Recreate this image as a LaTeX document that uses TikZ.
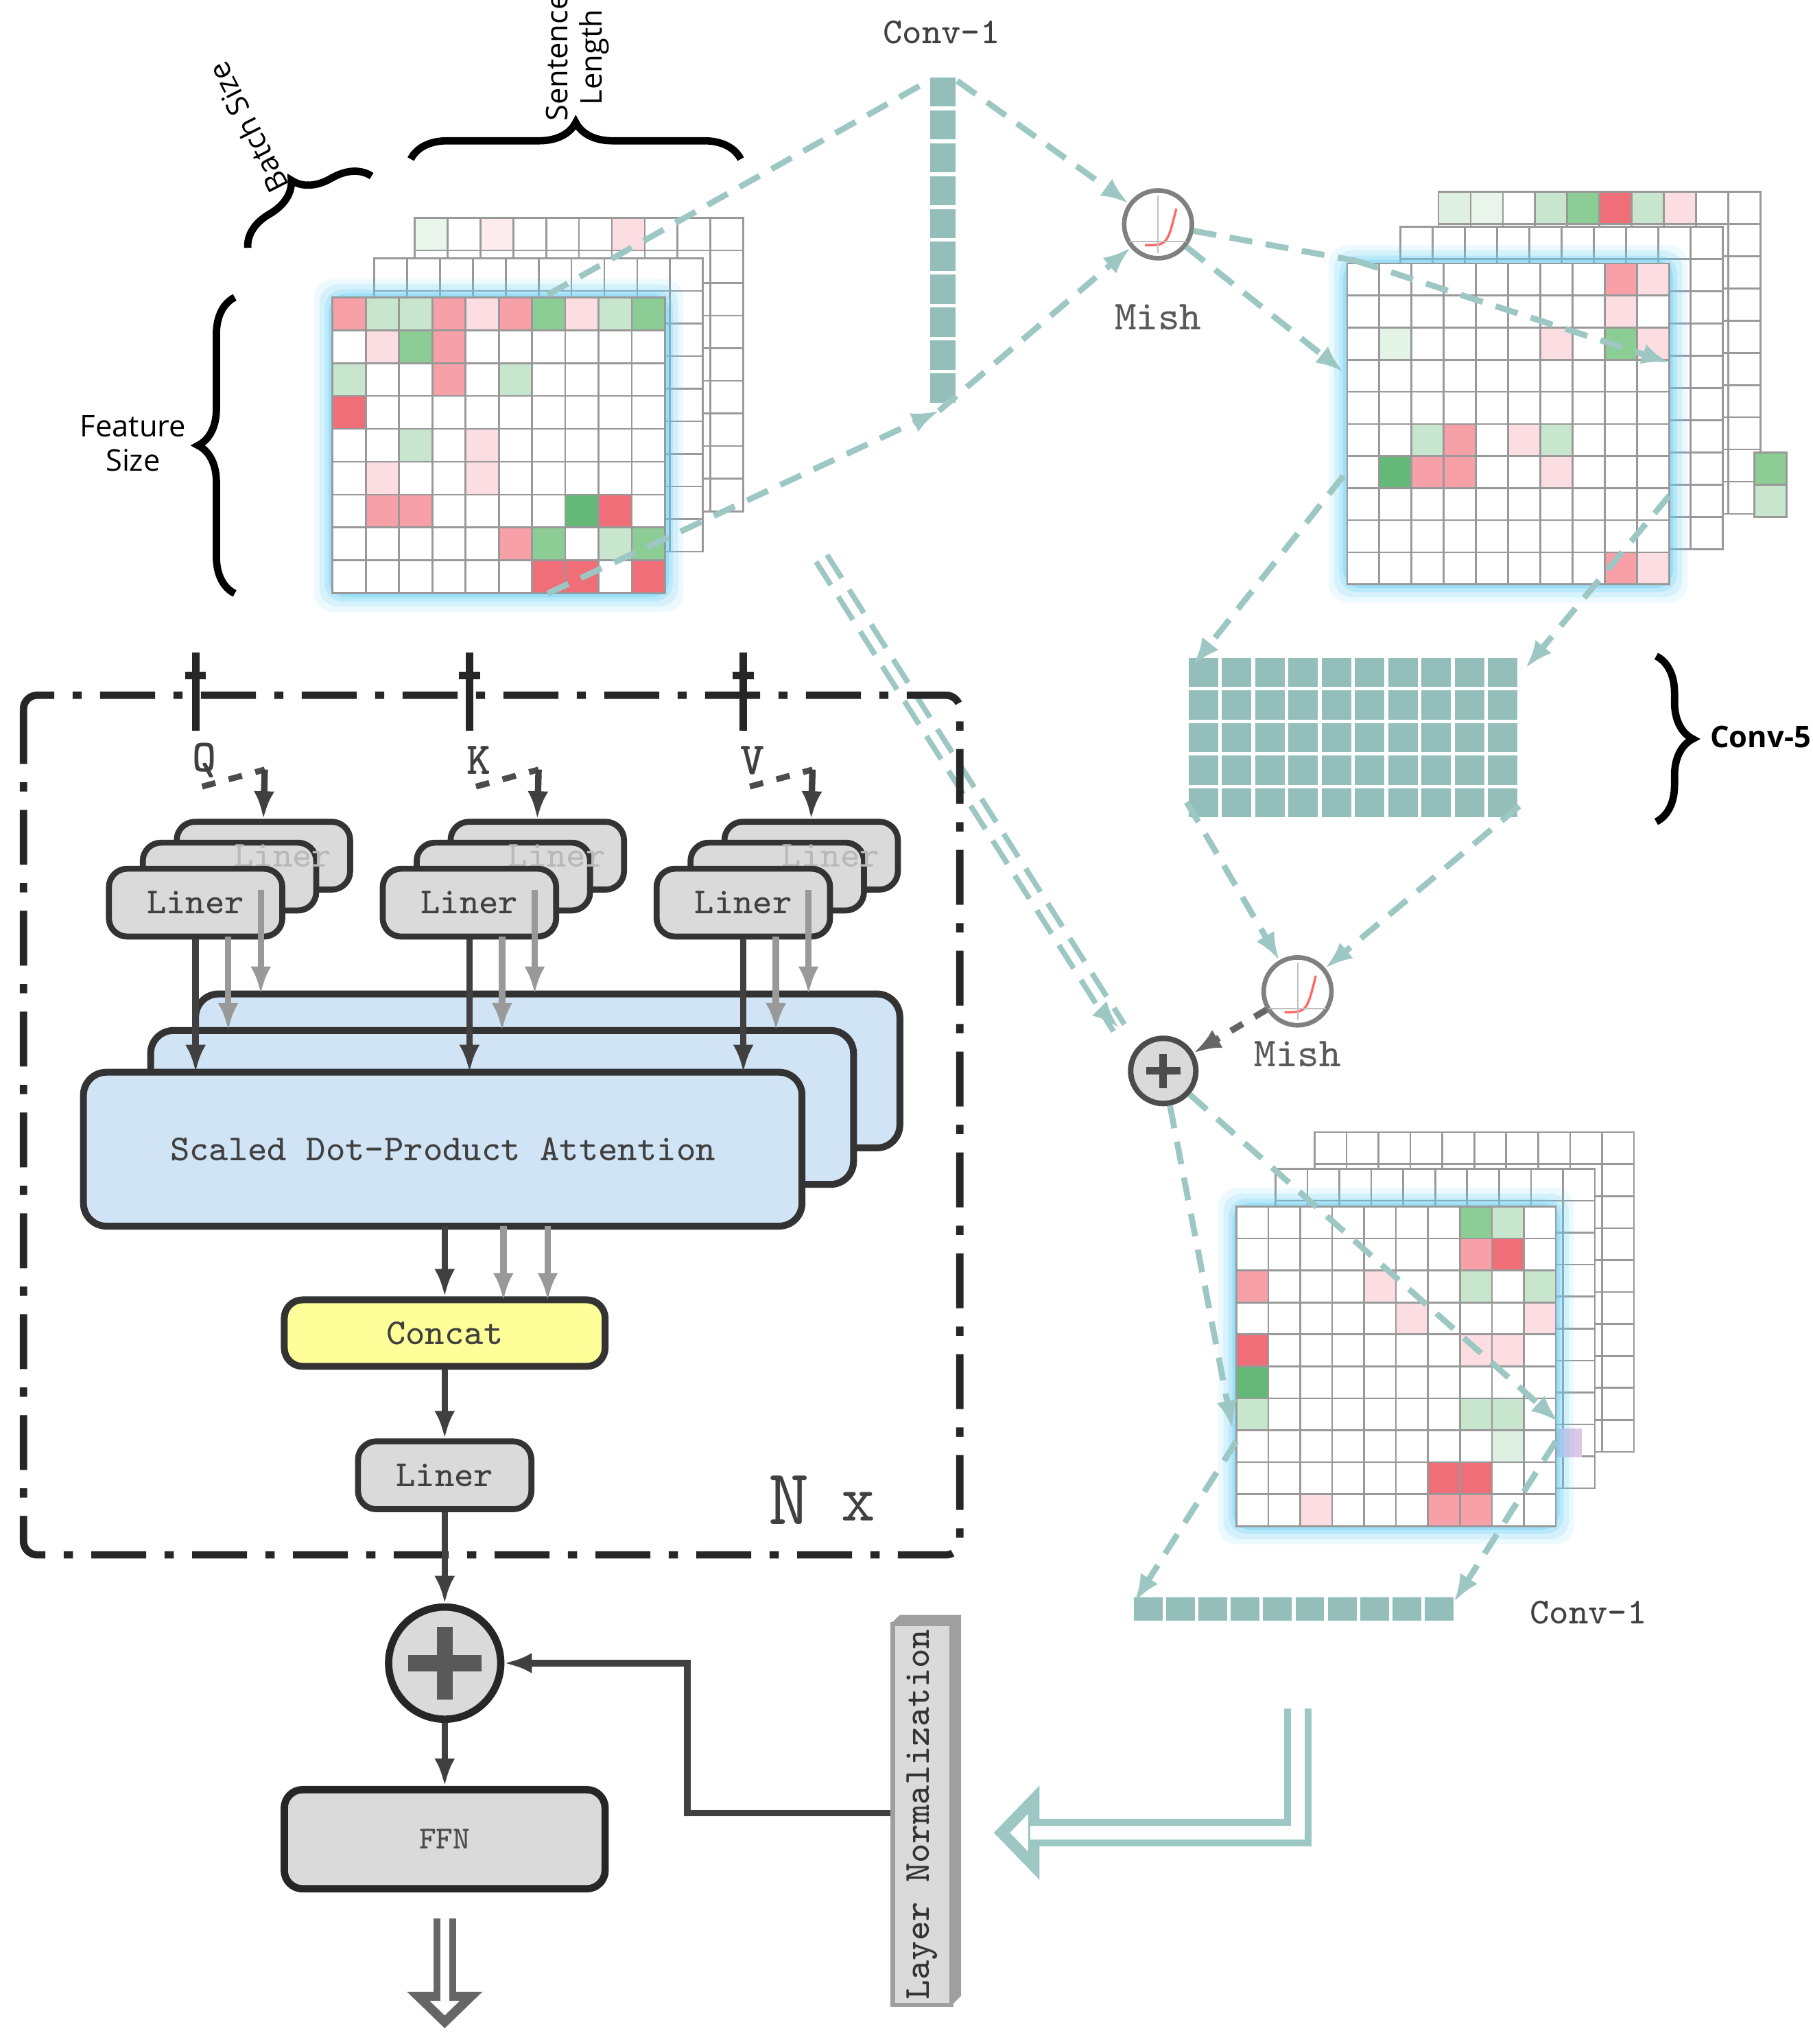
\documentclass[tikz,border=0pt]{standalone}
\usepackage{fontspec}
\newfontfamily\sansf{Open Sans}
\usetikzlibrary{arrows.meta,decorations.pathreplacing}
\definecolor{tealc}{RGB}{148,190,186}
\definecolor{teald}{RGB}{156,199,194}
\definecolor{pinkL}{RGB}{252,222,226}
\definecolor{pinkM}{RGB}{248,160,168}
\definecolor{redS}{RGB}{240,110,120}
\definecolor{greenL}{RGB}{200,230,205}
\definecolor{greenM}{RGB}{140,205,150}
\definecolor{greenS}{RGB}{100,185,120}
\definecolor{boxg}{RGB}{218,218,218}
\definecolor{attb}{RGB}{208,228,245}
\definecolor{concy}{RGB}{255,255,153}
\newcommand\cellgrid[6]{%
  \foreach \i in {1,...,#3} \foreach \j in {1,...,#4}
    \draw[cellst] ({#1+(\i-1)*#5},{#2+(\j-1)*#6}) rectangle +(#5,#6);}
\newcommand\glowrect[4]{%
  \foreach \g/\o in {14/0.12,10/0.18,6/0.25,3/0.35}
    \fill[cyan!60,opacity=\o,rounded corners=4] ({#1-\g},{#2-\g}) rectangle ({#3+\g},{#4+\g});}
\begin{document}
\begin{tikzpicture}[x=0.1mm,y=-0.1mm,
  cellst/.style={draw=gray!80,fill=white,line width=0.4pt},
  tcell/.style={draw=white,fill=tealc,line width=0.8pt},
  tdash/.style={teald,dashed,line width=1.3pt,dash pattern=on 5pt off 3pt},
  tarr/.style={tdash,-{Latex[length=6pt]}},
  liner/.style={draw=black!80,fill=boxg,rounded corners=4,line width=1.3pt},
  att/.style={draw=black!80,fill=attb,rounded corners=5,line width=1.5pt},
  darr/.style={black!75,line width=1.4pt,-{Latex[length=6pt]}},
  garr/.style={black!40,line width=1.4pt,-{Latex[length=6pt]}},
  mish/.style={circle,draw=gray,fill=white,line width=1pt,minimum size=5.2mm,inner sep=0pt},
  brc/.style={decorate,decoration={brace,amplitude=8pt},line width=1.6pt},
  lbl/.style={font=\ttfamily\footnotesize,text=black!75},
  dim/.style={font=\sansf\fontsize{6.5}{7.5}\selectfont,align=center}
]
\useasboundingbox (0,0) rectangle (1390,1567);

% ---- top left feature matrix
\cellgrid{318}{167}{10}{9}{25.2}{25}
\cellgrid{287}{198}{10}{9}{25.2}{25}
\glowrect{255}{228}{510}{455}
\cellgrid{255}{228}{10}{9}{25.5}{25.2}
\foreach \c/\r/\k in {0/0/pinkM,1/0/greenL,2/0/greenL,3/0/pinkM,4/0/pinkL,5/0/pinkM,6/0/greenM,7/0/pinkL,8/0/greenL,9/0/greenM,
  2/1/greenM,3/1/pinkM,1/1/pinkL,0/2/greenL,3/2/pinkM,5/2/greenL,0/3/redS,4/4/pinkL,2/4/greenL,1/5/pinkL,
  1/6/pinkM,2/6/pinkM,7/6/greenS,8/6/redS,5/7/pinkM,6/7/greenM,8/7/greenL,9/7/greenM,6/8/redS,7/8/redS,9/8/redS,4/5/pinkL}
  \fill[\k,draw=gray!80] ({255+\c*25.5},{228+\r*25.2}) rectangle +(25.5,25.2);
\foreach \c/\k in {0/greenL!40,2/pinkL!60,6/pinkL}
  \fill[\k,draw=gray!80] ({318+\c*25.2},167) rectangle +(25.2,25);
\draw[tdash] (420,226) -- (712,62);
\draw[tarr] (420,455) -- (720,315);

% ---- braces
\draw[brc] (180,455) -- (180,228);
\node[dim] (fsz) at (102,340) {Feature\\Size};
\draw[brc] (315,122) -- (568,122);
\node[dim,rotate=90] (slen) at (443,44) {Sentence\\Length};
\draw[brc] (190,190) -- (285,135);
\node[dim,rotate=117] (bsz) at (190,98) {Batch Size};

% ---- conv-1 column
\foreach \j in {0,...,9} \fill[tcell] (712,{58+\j*25.2}) rectangle +(22,25.2);
\node[lbl] (conva) at (722,25) {Conv-1};
\node[mish] (m1) at (888,172) {};
\draw[red!60,line width=0.5pt] (878,188) .. controls (895,188) .. (902,160);
\draw[gray!50,line width=0.3pt] (888,150) -- (888,194) (866,185) -- (910,185);
\node[font=\ttfamily\small,gray!70!black] (mt1) at (888,243) {Mish};
\draw[tarr] (734,62) -- (m1);
\draw[tarr] (720,315) -- (m1);

% ---- right top matrix
\cellgrid{1103}{147}{10}{10}{24.7}{24.7}
\cellgrid{1074}{174}{10}{10}{24.7}{24.7}
\glowrect{1033}{202}{1280}{448}
\cellgrid{1033}{202}{10}{10}{24.7}{24.6}
\foreach \c/\r/\k in {0/0/greenL!60,1/0/greenL!40,3/0/greenL,4/0/greenM,5/0/redS,6/0/greenL,7/0/pinkL}
  \fill[\k,draw=gray!80] ({1103+\c*24.7},147) rectangle +(24.7,24.7);
\foreach \c/\r/\k in {9/7/greenM,9/8/greenL}
  \fill[\k,draw=gray!80] ({1074+\c*24.7+49},{174+\r*24.7}) rectangle +(24.7,24.7);
\foreach \c/\r/\k in {8/0/pinkM,9/0/pinkL,8/1/pinkL,8/2/greenM,9/2/pinkL,6/2/pinkL,2/5/greenL,3/5/pinkM,5/5/pinkL,6/5/greenL,
  1/6/greenS,2/6/pinkM,3/6/pinkM,6/6/pinkL,8/9/pinkM,9/9/pinkL,1/2/greenL!50}
  \fill[\k,draw=gray!80] ({1033+\c*24.7},{202+\r*24.6}) rectangle +(24.7,24.6);
\draw[tarr] (m1) -- (1030,285);
\draw[tdash] (m1) -- (1040,200);
\draw[tarr] (1040,200) -- (1280,278);

% ---- conv-5
\foreach \i in {0,...,9} \foreach \j in {0,...,4}
  \fill[tcell] ({910+\i*25.5},{503+\j*25}) rectangle +(25.5,25);
\draw[brc] (1270,503) -- (1270,630);
\node[dim,font=\sansf\fontsize{6.5}{7.5}\selectfont\bfseries] (c5) at (1350,565) {Conv-5};
\draw[tarr] (1030,365) -- (915,510);
\draw[tarr] (1280,380) -- (1170,512);

% ---- second mish and add
\node[mish] (m2) at (995,760) {};
\draw[red!60,line width=0.5pt] (985,776) .. controls (1002,776) .. (1009,748);
\draw[gray!50,line width=0.3pt] (995,738) -- (995,782) (973,773) -- (1017,773);
\node[font=\ttfamily\small,gray!70!black] (mt2) at (995,808) {Mish};
\draw[tarr] (910,615) -- (m2);
\draw[tarr] (1165,618) -- (m2);
\node[circle,draw=black!70,fill=boxg,line width=1.2pt,minimum size=5mm,inner sep=0pt] (p1) at (892,821) {};
\draw[black!70,line width=1.6pt] (879,821) -- (905,821) (892,808) -- (892,834);
\draw[black!60,dashed,line width=1.4pt,-{Latex[length=6pt]}] (m2) -- (p1);
\coordinate (dd1) at (630,428);
\coordinate (dd2) at (858,788);
\draw[teald,dashed,line width=4pt,dash pattern=on 6pt off 3pt] (dd1) -- (dd2);
\draw[white,line width=1.6pt] (dd1) -- (dd2);
\draw[teald,line width=1.2pt,-{Latex[length=6pt]}] (845,775) -- (dd2);

% ---- lower right matrix
\cellgrid{1008}{868}{10}{10}{24.5}{24.5}
\cellgrid{978}{896}{10}{10}{24.5}{24.5}
\fill[pinkM!70!blue!40] (1193,1095) rectangle +(20,22);
\glowrect{948}{925}{1193}{1170}
\cellgrid{948}{925}{10}{10}{24.5}{24.5}
\foreach \c/\r/\k in {7/0/greenM,8/0/greenL,7/1/pinkM,8/1/redS,0/2/pinkM,4/2/pinkL,9/2/greenL,7/2/greenL,9/3/pinkL,0/4/redS,
  0/5/greenS,0/6/greenL,7/4/pinkL,8/4/pinkL,7/6/greenL,8/6/greenL,6/8/redS,7/8/redS,6/9/pinkM,7/9/pinkM,2/9/pinkL,8/7/greenL!60,5/3/pinkL}
  \fill[\k,draw=gray!80] ({948+\c*24.5},{925+\r*24.5}) rectangle +(24.5,24.5);
\draw[tarr] (p1) -- (945,1095);
\draw[tarr] (p1) -- (1195,1090);
\foreach \i in {0,...,9} \fill[tcell] ({868+\i*24.8},1223) rectangle +(24.8,21);
\node[lbl] (convb) at (1218,1236) {Conv-1};
\draw[tarr] (948,1105) -- (870,1228);
\draw[tarr] (1193,1105) -- (1115,1228);

% ---- teal return arrow
\coordinate (ra) at (995,1310);
\coordinate (rb) at (995,1405);
\coordinate (rc) at (762,1405);
\draw[teald,line width=6pt,-{Triangle[open,length=10pt,width=20pt]}] (ra) -- (rb) -- (rc);
\draw[white,line width=3pt,shorten >=8pt] (ra) -- (rb) -- (rc);

% ---- layer normalization
\fill[gray!75] (683,1245) -- (690,1238) -- (737,1238) -- (737,1530) -- (730,1537) -- (683,1537) -- cycle;
\node[draw=gray!75,fill=boxg,line width=1pt,minimum width=4.5mm,minimum height=29.2mm,inner sep=0pt] (ln) at (707,1391) {};
\node[rotate=90,font=\ttfamily\footnotesize,text=black!80] at (ln) {Layer Normalization};

% ---- encoder block
\draw[black!85,line width=1.6pt,dash pattern=on 12pt off 4pt on 2pt off 4pt,rounded corners=3] (18,533) rectangle (736,1192);
\node[font=\ttfamily\LARGE,text=black!75] (nx) at (605,1150) {N};
\node[font=\ttfamily\Large,text=black!75] (nx2) at (658,1155) {x};
\foreach \x/\q in {150/Q,360/K,570/V} {
  \draw[black!85,line width=1.6pt] (\x,500) -- (\x,560);
  \draw[black!85,line width=1.6pt] ({\x-8},518) -- ({\x+8},518);
  \node[font=\ttfamily\bfseries\normalsize,text=black!75] (q\q) at ({\x+7},583) {\q};
  \node[liner,minimum width=13.3mm,minimum height=5.2mm] (lb\q) at ({\x+52},656) {};
  \node[liner,minimum width=13.3mm,minimum height=5.2mm] (lm\q) at ({\x+26},672) {};
  \node[font=\ttfamily\footnotesize,gray!55] at (lb\q) {\ \ Liner};
  \node[liner,minimum width=13.3mm,minimum height=5.2mm] (lf\q) at (\x,692) {};
  \node[lbl] at (lf\q) {Liner};
  \draw[black!70,dashed,line width=1.3pt] ({\x+5},603) -- ({\x+53},590);
  \draw[darr] ({\x+53},590) -- (lb\q.north);
}
\node[att,minimum width=54mm,minimum height=11.8mm] (at3) at (420,821) {};
\node[att,minimum width=53.9mm,minimum height=11.8mm] (at2) at (385,849) {};
\node[att,minimum width=55.1mm,minimum height=11.8mm] (at1) at (339.5,881) {};
\node[lbl] at (at1) {Scaled Dot-Product Attention};
\foreach \x/\q in {150/Q,360/K,570/V} {
  \draw[darr] (lf\q.south) -- (\x,822);
  \draw[garr] ({\x+25},718) -- ({\x+25},790);
  \draw[garr] ({\x+50},682) -- ({\x+50},762);
}
\node[draw=black!80,fill=concy,rounded corners=4,line width=1.5pt,minimum width=24.6mm,minimum height=5.1mm,lbl] (cat) at (341,1022) {Concat};
\draw[darr] (341,940) -- (cat);
\draw[garr] (386,940) -- (386,997);
\draw[garr] (420,940) -- (420,997);
\node[liner,minimum width=13.3mm,minimum height=5.2mm,lbl] (lo) at (341,1131) {Liner};
\draw[darr] (cat) -- (lo);
\node[circle,draw=black!85,fill=boxg,line width=1.6pt,minimum size=8.6mm,inner sep=0pt] (p2) at (341,1275) {};
\draw[gray!70!black,line width=3.5pt] (313,1275) -- (369,1275) (341,1247) -- (341,1303);
\draw[darr] (lo) -- (p2);
\draw[darr] (ln.west |- 0,1390) -- (527,1390) -- (527,1275) -- (p2);
\node[draw=black!85,fill=boxg,rounded corners=4,line width=1.6pt,minimum width=24.6mm,minimum height=7.6mm,font=\ttfamily\scriptsize,text=black!70] (ffn) at (341,1410) {FFN};
\draw[darr] (p2) -- (ffn);
\coordinate (fo) at (341,1555);
\draw[black!60,line width=5pt,-{Triangle[open,length=8pt,width=16pt]}] (ffn.south) ++(0,20) -- (fo);
\draw[white,line width=2pt,shorten >=6pt] (341,1468) -- (fo);
\end{tikzpicture}
\end{document}
